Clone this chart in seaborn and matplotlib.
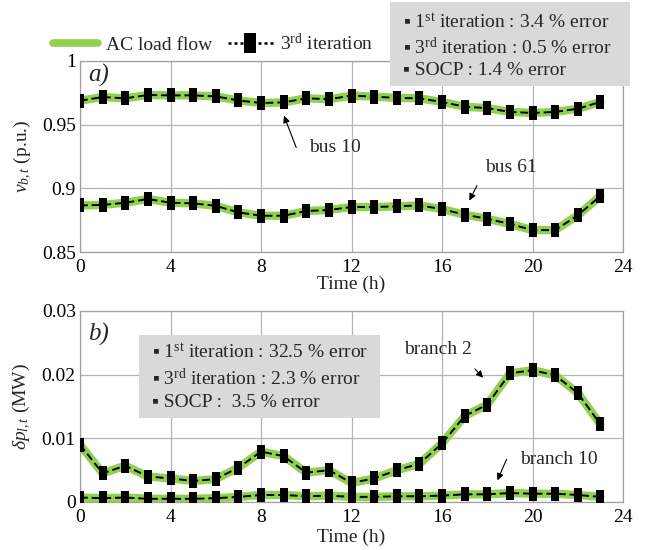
import numpy as np
import pandas as pd
import matplotlib
matplotlib.use("Agg")
import matplotlib.pyplot as plt
from matplotlib import font_manager as fm
from matplotlib.lines import Line2D
from matplotlib.patches import Rectangle
import seaborn as sns

# ---- data -------------------------------------------------------------
hours = list(range(24))

bus10 = [0.9688, 0.9717, 0.9707, 0.9733, 0.9730, 0.9730, 0.9722, 0.9690,
         0.9670, 0.9675, 0.9707, 0.9700, 0.9728, 0.9720, 0.9710, 0.9707,
         0.9678, 0.9641, 0.9630, 0.9600, 0.9592, 0.9600, 0.9625, 0.9678]
bus61 = [0.8866, 0.8870, 0.8887, 0.8916, 0.8887, 0.8882, 0.8863, 0.8811,
         0.8785, 0.8785, 0.8822, 0.8830, 0.8853, 0.8853, 0.8859, 0.8866,
         0.8837, 0.8793, 0.8761, 0.8720, 0.8672, 0.8672, 0.8788, 0.8940]

branch2 = [0.0090, 0.0045, 0.0057, 0.0040, 0.0037, 0.0033, 0.0036, 0.0054,
           0.0079, 0.0072, 0.0046, 0.0050, 0.0030, 0.0037, 0.0050, 0.0060,
           0.0092, 0.0135, 0.0153, 0.0202, 0.0207, 0.0199, 0.0171, 0.0122]
branch10 = [0.0007, 0.0006, 0.0007, 0.0005, 0.0005, 0.0005, 0.0006, 0.0008,
            0.0011, 0.0011, 0.0009, 0.0010, 0.0008, 0.0008, 0.0009, 0.0009,
            0.0010, 0.0012, 0.0012, 0.0014, 0.0013, 0.0013, 0.0011, 0.0008]

x_ticks = [0, 4, 8, 12, 16, 20, 24]
va_ticks = [0.85, 0.9, 0.95, 1.0]
va_ticklabels = ["0.85", "0.9", "0.95", "1"]
vb_ticks = [0.0, 0.01, 0.02, 0.03]
vb_ticklabels = ["0", "0.01", "0.02", "0.03"]

box_a = ["1$^{\\mathrm{st}}$ iteration : 3.4 % error",
         "3$^{\\mathrm{rd}}$ iteration : 0.5 % error",
         "SOCP : 1.4 % error"]
box_b = ["1$^{\\mathrm{st}}$ iteration : 32.5 % error",
         "3$^{\\mathrm{rd}}$ iteration : 2.3 % error",
         "SOCP :  3.5 % error"]

# ---- style ------------------------------------------------------------
sns.set_theme(style="white")
FONT_DIR = "/usr/share/fonts/truetype/liberation/"
for f in ["LiberationSerif-Regular.ttf", "LiberationSerif-Italic.ttf"]:
    try:
        fm.fontManager.addfont(FONT_DIR + f)
    except Exception:
        pass
plt.rcParams["font.serif"] = ["Liberation Serif", "DejaVu Serif"]
plt.rcParams["font.family"] = ["serif"]
plt.rcParams["mathtext.fontset"] = "custom"
plt.rcParams["mathtext.rm"] = "Liberation Serif"
plt.rcParams["mathtext.it"] = "Liberation Serif:italic"
plt.rcParams["mathtext.bf"] = "Liberation Serif:bold"

FS = 14
TXT = dict(fontproperties=fm.FontProperties(family="Liberation Serif", size=FS))
TXT_IT = dict(fontproperties=fm.FontProperties(family="Liberation Serif",
                                               style="italic", size=18))

GREEN = "#92D050"
rect_marker = [(-0.33, -0.5), (0.33, -0.5), (0.33, 0.5), (-0.33, 0.5), (-0.33, -0.5)]

fig = plt.figure(figsize=(6.57, 5.5), dpi=100)
ax_a = fig.add_axes([0.1218, 0.5418, 0.8265, 0.3473])
ax_b = fig.add_axes([0.1218, 0.0873, 0.8265, 0.3473])


def draw_series(ax, y):
    df = pd.DataFrame({"t": hours, "v": y})
    sns.lineplot(data=df, x="t", y="v", ax=ax, color=GREEN, lw=6,
                 solid_joinstyle="round", zorder=2)
    sns.lineplot(data=df, x="t", y="v", ax=ax, color="black", lw=1.4,
                 linestyle=(0, (4, 2)), marker=rect_marker, markersize=9.5,
                 markeredgewidth=0, markerfacecolor="black", zorder=3)


def style_axis(ax, yticks, yticklabels, ylim, xlabelpad):
    ax.set_xlim(0, 24)
    ax.set_ylim(*ylim)
    ax.set_xticks(x_ticks)
    ax.set_xticklabels([str(v) for v in x_ticks], **TXT)
    ax.set_yticks(yticks)
    ax.set_yticklabels(yticklabels, **TXT)
    ax.grid(True, color="#b4b4b4", lw=0.9)
    ax.tick_params(axis="x", length=0, pad=5, colors="black")
    ax.tick_params(axis="y", length=0, pad=3, colors="black")
    for s in ax.spines.values():
        s.set_color("#a0a0a0")
        s.set_linewidth(0.9)
    ax.set_xlabel("Time (h)", labelpad=xlabelpad, **TXT)


draw_series(ax_a, bus10)
draw_series(ax_a, bus61)
style_axis(ax_a, va_ticks, va_ticklabels, (0.85, 1.0), 0)
ax_a.set_ylabel("$v_{b,t}$ (p.u.)", labelpad=6, **TXT)

draw_series(ax_b, branch2)
draw_series(ax_b, branch10)
style_axis(ax_b, vb_ticks, vb_ticklabels, (0.0, 0.03), 2)
ax_b.set_ylabel("$\\delta p_{l,t}$ (MW)", labelpad=6, **TXT)

# panel tags
ax_a.text(0.015, 0.925, "a)", transform=ax_a.transAxes,
          va="center", ha="left", **TXT_IT)
ax_b.text(0.015, 0.875, "b)", transform=ax_b.transAxes,
          va="center", ha="left", **TXT_IT)

# annotations
arrow = dict(arrowstyle="-|>", color="black", lw=0.8, mutation_scale=10)
ax_a.annotate("", xy=(8.97, 0.959), xytext=(9.6, 0.930), arrowprops=arrow)
ax_a.text(11.25, 0.9317, "bus 10", ha="center", va="center", **TXT)
ax_a.annotate("", xy=(17.15, 0.8885), xytext=(17.6, 0.904), arrowprops=arrow)
ax_a.text(19.05, 0.9167, "bus 61", ha="center", va="center", **TXT)

ax_b.annotate("", xy=(17.9, 0.0192), xytext=(17.37, 0.0212), arrowprops=arrow)
ax_b.text(15.8, 0.0239, "branch 2", ha="center", va="center", **TXT)
ax_b.annotate("", xy=(18.4, 0.0030), xytext=(18.9, 0.0071), arrowprops=arrow)
ax_b.text(21.17, 0.0066, "branch 10", ha="center", va="center", **TXT)

# error summary boxes
BOX = "#d9d9d9"
fig.add_artist(Rectangle((0.5936, 0.8436), 0.3653, 0.1528,
                         transform=fig.transFigure, facecolor=BOX,
                         edgecolor="none", zorder=5))
for txt, yy in zip(box_a, [0.960, 0.9145, 0.8727]):
    fig.text(0.613, yy, "\u25aa " + txt, va="center", ha="left",
             zorder=6, **TXT)

ax_b.add_patch(Rectangle((0.1087, 0.440), 0.4438, 0.4346,
                         transform=ax_b.transAxes, facecolor=BOX,
                         edgecolor="none", zorder=4))
for txt, yy in zip(box_b, [0.360, 0.3127, 0.2673]):
    fig.text(0.232, yy, "\u25aa " + txt, va="center", ha="left",
             zorder=6, **TXT)

# legend
handles = [Line2D([], [], color=GREEN, lw=5.5),
           Line2D([], [], color="black", lw=1.8, linestyle=(0, (1.2, 1.2)),
                  marker=rect_marker, markersize=14, markeredgewidth=0)]
labels = ["AC load flow", "3$^{\\mathrm{rd}}$ iteration"]
fig.legend(handles, labels, loc="center", bbox_to_anchor=(0.325, 0.921),
           ncol=2, frameon=False, handlelength=2.3,
           handletextpad=0.4, columnspacing=0.8,
           prop=fm.FontProperties(family="Liberation Serif", size=FS))

fig.savefig("out.png", dpi=100)
